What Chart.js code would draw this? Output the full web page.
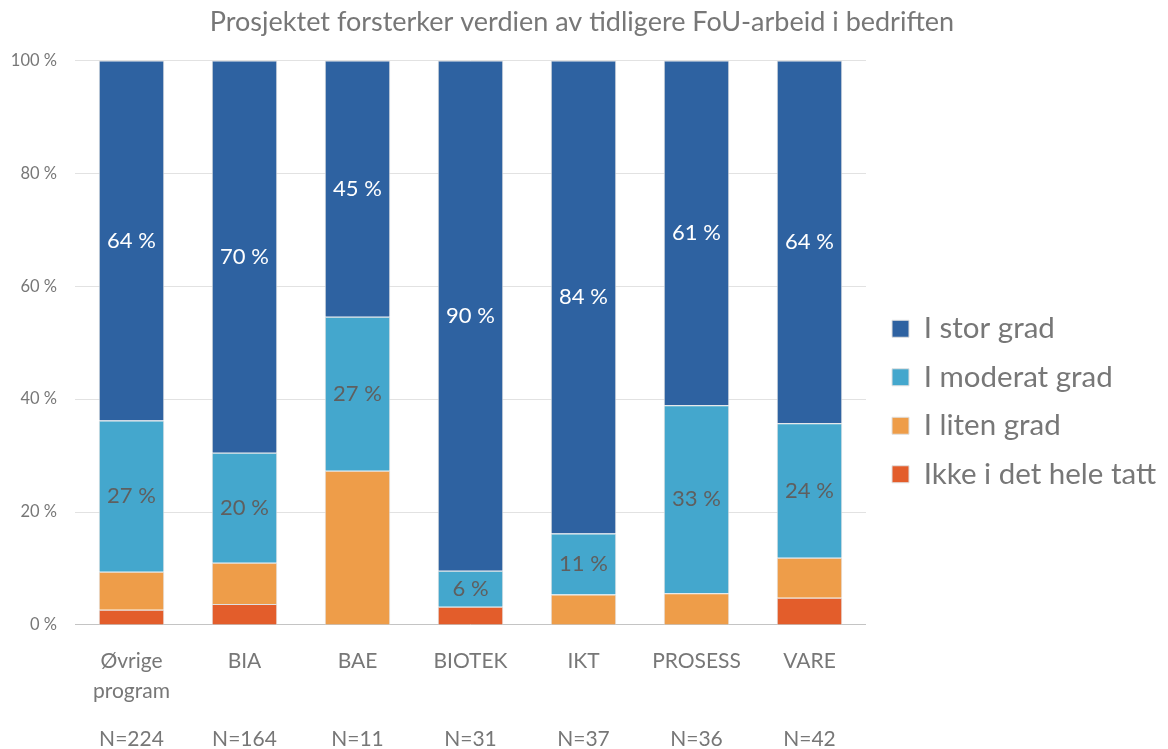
<!DOCTYPE html>
<html>
<head>
<meta charset="utf-8">
<script src="https://cdn.jsdelivr.net/npm/chart.js@4.4.1/dist/chart.umd.min.js"></script>
<style>
  html, body { margin: 0; padding: 0; background: #fff; }
  #wrap { width: 1168px; height: 749px; }
</style>
</head>
<body>
<div id="wrap"><canvas id="chart" width="1168" height="749"></canvas></div>
<script>
// categories + sample sizes
const programs = [["Øvrige", "program"], "BIA", "BAE", "BIOTEK", "IKT", "PROSESS", "VARE"];
const sampleSizes = ["N=224", "N=164", "N=11", "N=31", "N=37", "N=36", "N=42"];

// share of answers (%), bottom to top
const ikkeIDetHeleTatt = [2.7, 3.7, 0, 3.2, 0, 0, 4.8];
const iLitenGrad = [6.7, 7.3, 27.3, 0, 5.4, 5.6, 7.1];
const iModeratGrad = [26.8, 19.5, 27.3, 6.4, 10.8, 33.3, 23.8];
const iStorGrad = [63.8, 69.5, 45.4, 90.4, 83.8, 61.1, 64.3];

const yTicks = [0, 20, 40, 60, 80, 100];

const TEXT_GRAY = "#777777";
const FONT = "Lato, 'Open Sans', sans-serif";
const LEGEND_GAP = 7; // white space between plot and legend

// percent labels centred in the two blue segments
const segmentLabels = {
  id: "segmentLabels",
  afterDatasetsDraw(chart) {
    const { ctx } = chart;
    chart.data.datasets.forEach((ds, i) => {
      if (!ds.labelColor) return;
      const meta = chart.getDatasetMeta(i);
      meta.data.forEach((bar, j) => {
        const v = ds.data[j];
        if (!v) return;
        const { x, y, base } = bar.getProps(["x", "y", "base"], true);
        ctx.save();
        ctx.fillStyle = ds.labelColor;
        ctx.font = "22px " + FONT;
        ctx.textAlign = "center";
        ctx.textBaseline = "middle";
        ctx.fillText(Math.round(v) + " %", x, (y + base) / 2);
        ctx.restore();
      });
    });
  },
};

// widen the legend box so the plot stops short of it, then push the items back right
const legendGap = {
  id: "legendGap",
  beforeLayout(chart) {
    const lg = chart.legend;
    if (!lg || lg._gapWrapped) return;
    const fit = lg.fit;
    lg.fit = function () {
      fit.call(this);
      this.width += LEGEND_GAP;
    };
    lg._gapWrapped = true;
  },
  afterLayout(chart) {
    if (chart.legend) chart.legend.left += LEGEND_GAP;
  },
};

const barStyle = { borderColor: "#e0e0e0", borderWidth: 1, barPercentage: 0.58, categoryPercentage: 1 };

new Chart(document.getElementById("chart"), {
  type: "bar",
  data: {
    labels: programs,
    datasets: [
      { label: "Ikke i det hele tatt", data: ikkeIDetHeleTatt, backgroundColor: "#e35d2b", ...barStyle },
      { label: "I liten grad", data: iLitenGrad, backgroundColor: "#ee9d49", ...barStyle },
      { label: "I moderat grad", data: iModeratGrad, backgroundColor: "#44a7cd", labelColor: "#5f5f5f", ...barStyle },
      { label: "I stor grad", data: iStorGrad, backgroundColor: "#2e62a1", labelColor: "#ffffff", ...barStyle },
    ],
  },
  plugins: [segmentLabels, legendGap],
  options: {
    responsive: false,
    animation: false,
    layout: { padding: { left: 0, right: 4, top: 0, bottom: -2 } },
    plugins: {
      title: {
        display: true,
        text: "Prosjektet forsterker verdien av tidligere FoU-arbeid i bedriften",
        color: TEXT_GRAY,
        font: { family: FONT, size: 27, weight: "normal" },
        padding: { top: 6, bottom: 22 },
      },
      legend: {
        position: "right",
        reverse: true,
        title: { display: true, text: "", font: { size: 10 }, padding: { top: 0, bottom: 40 } },
        labels: {
          color: TEXT_GRAY,
          boxWidth: 17,
          boxHeight: 17,
          padding: 19,
          font: { family: FONT, size: 29.5 },
        },
      },
      tooltip: { enabled: false },
    },
    scales: {
      x: {
        stacked: true,
        grid: { display: false },
        border: { display: false },
        ticks: { color: TEXT_GRAY, padding: 13, maxRotation: 0, font: { family: FONT, size: 21, lineHeight: 1.45 } },
      },
      x2: {
        type: "category",
        labels: sampleSizes,
        position: "bottom",
        grid: { display: false },
        border: { display: false },
        ticks: { color: TEXT_GRAY, padding: -1, maxRotation: 0, font: { family: FONT, size: 21 } },
      },
      y: {
        stacked: true,
        min: 0,
        max: 100,
        afterBuildTicks: (axis) => { axis.ticks = yTicks.map((v) => ({ value: v })); },
        afterFit: (axis) => { axis.width = 75; },
        border: { display: false },
        grid: {
          drawTicks: false,
          color: (c) => (c.tick && c.tick.value === 0 ? "#c4c4c4" : "#e2e2e2"),
        },
        ticks: {
          color: TEXT_GRAY,
          padding: 18,
          font: { family: FONT, size: 16.5 },
          callback: (v) => v + " %",
        },
      },
    },
  },
});
</script>
</body>
</html>
